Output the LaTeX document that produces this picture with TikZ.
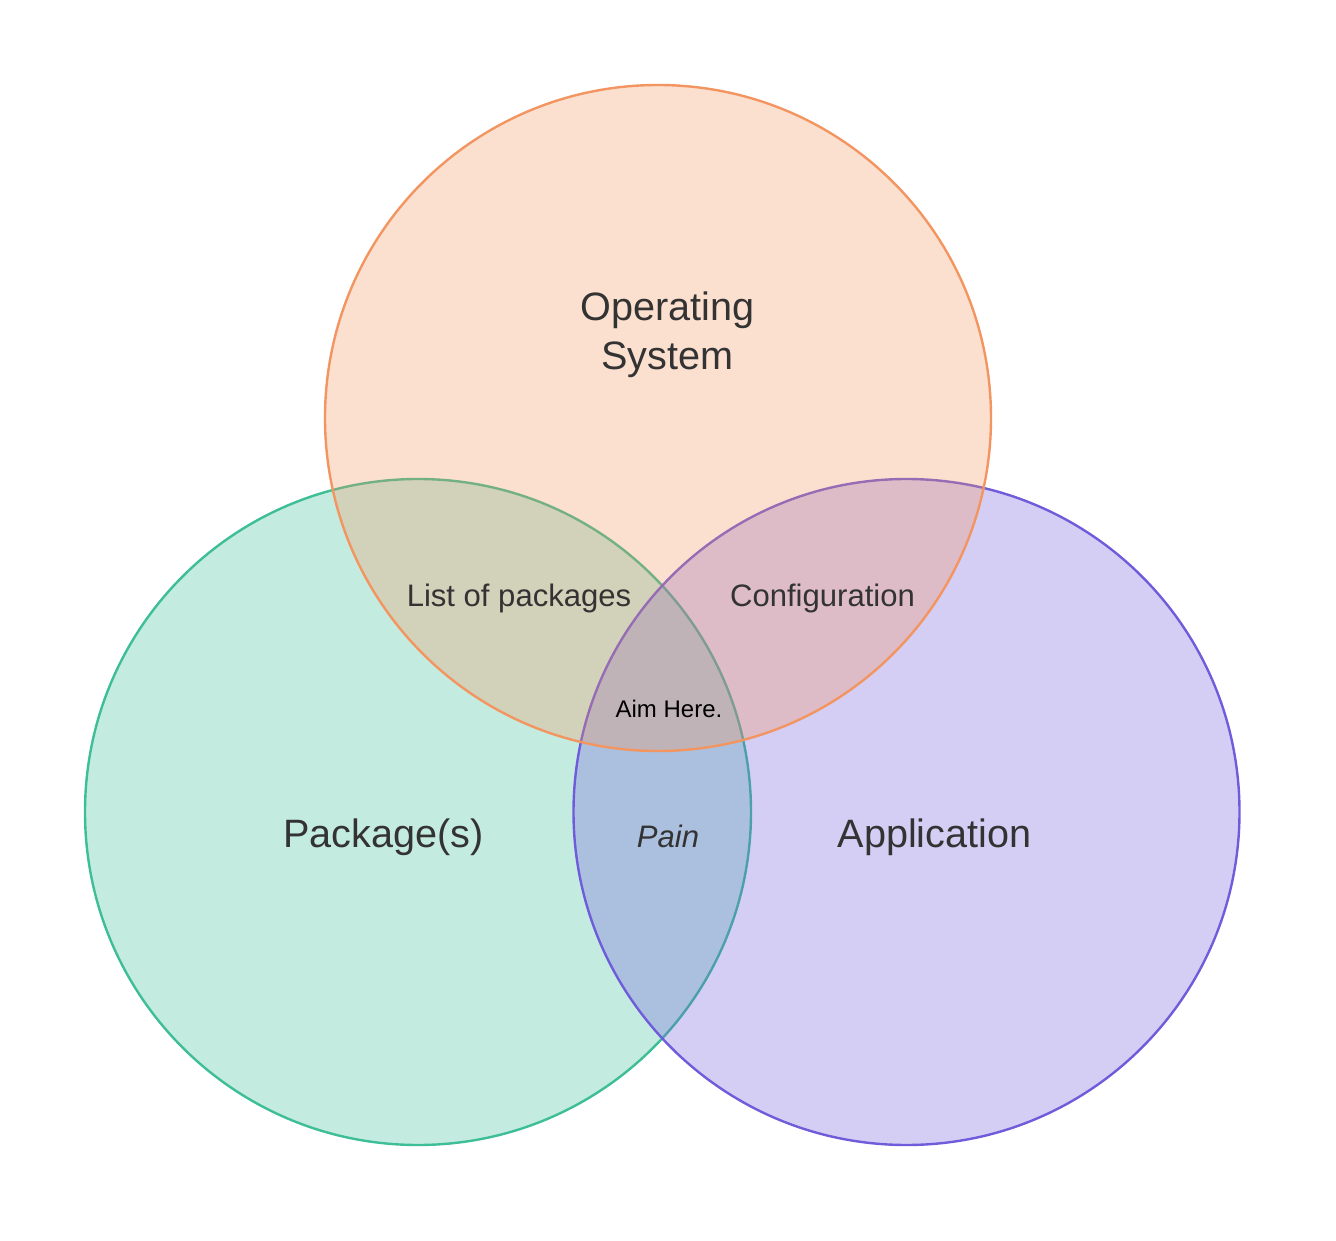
\documentclass[tikz,border=0pt]{standalone}
\usepackage{fontspec}
\setmainfont{Liberation Sans}

\definecolor{osline}{HTML}{F39560}
\definecolor{pkgline}{HTML}{3DBE96}
\definecolor{appline}{HTML}{6F5CDB}
\definecolor{textgray}{HTML}{333333}

\tikzset{
  venn/.style={circle, minimum size=499.5pt, line width=1.8pt,
    fill opacity=0.3},
  bigtext/.style={text=textgray, font=\fontsize{29.7}{36.5}\selectfont},
  midtext/.style={text=textgray, font=\fontsize{23.3}{28}\selectfont},
  smalltext/.style={text=black, font=\fontsize{18}{22}\selectfont},
}

\begin{document}
\begin{tikzpicture}[x=0.75pt, y=-0.75pt]
  \useasboundingbox (0,0) rectangle (1336,1241);

  % the three sets
  \node [venn, draw=pkgline, fill=pkgline] (pkg) at (418,812) {};
  \node [venn, draw=appline, fill=appline] (app) at (906.5,812) {};
  \node [venn, draw=osline,  fill=osline]  (os)  at (658,418) {};

  % set names
  \node [bigtext, align=center] (ostext) at (667.5,335) {Operating\\System};
  \node [bigtext, anchor=base] (pkgtext) at (383.5,847) {Package(s)};
  \node [bigtext, anchor=base] (apptext) at (934.5,847) {Application};

  % overlaps
  \node [midtext, anchor=base] (listtext) at (519,606) {List of packages};
  \node [midtext, anchor=base] (conftext) at (822.5,606) {Configuration};
  \node [midtext, anchor=base, font=\fontsize{23.3}{28}\selectfont\itshape]
    (paintext) at (668,847) {Pain};
  \node [smalltext, anchor=base] (aimtext) at (669,717) {Aim Here.};
\end{tikzpicture}
\end{document}
